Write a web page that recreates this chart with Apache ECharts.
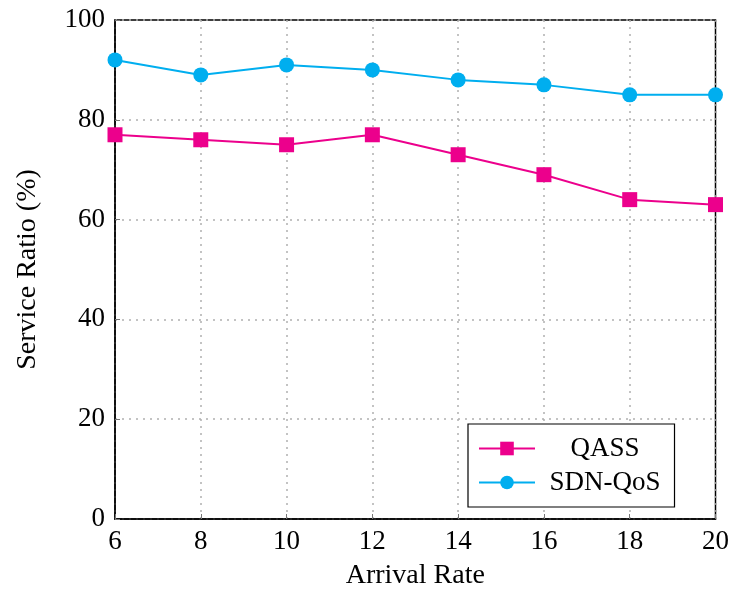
<!DOCTYPE html>
<html><head><meta charset="utf-8">
<script src="https://cdn.jsdelivr.net/npm/echarts@6/dist/echarts.min.js"></script>
<style>html,body{margin:0;padding:0;background:#fff}#c{width:732px;height:595px}</style>
</head><body><div id="c"></div>
<script>
const xValues = [6, 8, 10, 12, 14, 16, 18, 20];
const qass = [77, 76, 75, 77, 73, 69, 64, 63];
const sdnQos = [92, 89, 91, 90, 88, 87, 85, 85];
const seriesNames = ['QASS', 'SDN-QoS'];
const font = 'Liberation Serif, DejaVu Serif, serif';
const fs = 27;
const chart = echarts.init(document.getElementById('c'));
const gridLine = {show: true, lineStyle: {color: '#b0b0b0', type: [2, 5], width: 1.5}};
chart.setOption({
  animation: false,
  grid: {left: 115, right: 12, top: 20, bottom: 71, show: true, borderColor: '#000', borderWidth: 1.5, backgroundColor: 'transparent'},
  xAxis: {
    type: 'value', min: 6, max: 20, interval: 2,
    name: 'Arrival Rate', nameLocation: 'middle', nameGap: 43,
    nameTextStyle: {fontFamily: font, fontSize: 28, color: '#000'},
    axisLine: {show: true, lineStyle: {color: '#000', width: 1.5}},
    axisTick: {show: true, inside: true, length: 5, lineStyle: {color: '#777'}},
    axisLabel: {fontFamily: font, fontSize: fs, color: '#000', margin: 9},
    splitLine: gridLine
  },
  yAxis: {
    type: 'value', min: 0, max: 100, interval: 20,
    name: 'Service Ratio (%)', nameLocation: 'middle', nameGap: 73,
    nameTextStyle: {fontFamily: font, fontSize: 28, color: '#000'},
    axisLine: {show: true, lineStyle: {color: '#000', width: 1.5}},
    axisTick: {show: true, inside: true, length: 5, lineStyle: {color: '#777'}},
    axisLabel: {fontFamily: font, fontSize: fs, color: '#000', margin: 10},
    splitLine: gridLine
  },
  legend: {
    orient: 'vertical', left: 468, top: 424,
    backgroundColor: '#fff', borderColor: '#000', borderWidth: 1.2,
    padding: [11, 14, 11, 10], itemGap: 7, itemWidth: 56, itemHeight: 17,
    textStyle: {fontFamily: font, fontSize: fs, color: '#000',
      rich: {c: {width: 130, align: 'center', fontFamily: font, fontSize: fs, color: '#000'}}},
    formatter: n => '{c|' + n + '}',
    data: seriesNames
  },
  series: [
    {name: seriesNames[0], type: 'line', data: xValues.map((x, i) => [x, qass[i]]),
     symbol: 'rect', symbolSize: 15, itemStyle: {color: '#ec008c'}, lineStyle: {color: '#ec008c', width: 2}},
    {name: seriesNames[1], type: 'line', data: xValues.map((x, i) => [x, sdnQos[i]]),
     symbol: 'circle', symbolSize: 15, itemStyle: {color: '#00aeef'}, lineStyle: {color: '#00aeef', width: 2}}
  ]
});
</script></body></html>
